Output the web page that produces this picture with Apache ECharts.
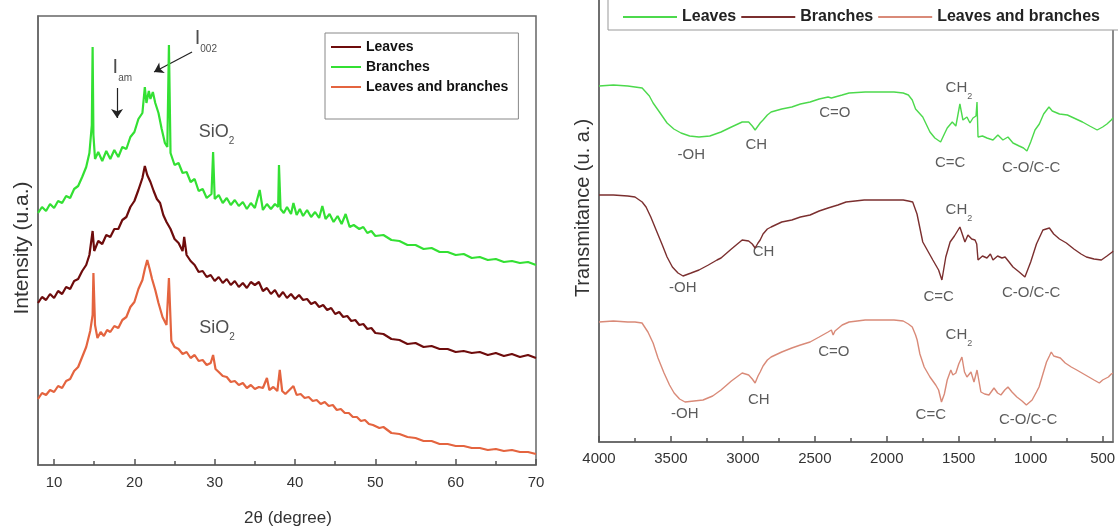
<!DOCTYPE html>
<html>
<head>
<meta charset="utf-8">
<script src="https://cdn.jsdelivr.net/npm/echarts@6/dist/echarts.min.js"></script>
<style>
html,body{margin:0;padding:0;background:#fff;}
#c{width:1118px;height:531px;}
</style>
</head>
<body>
<div id="c"></div>
<script>
// ---------- XRD (left panel): [2theta, intensity (a.u.)] ----------
const xrdBranches = [[8,252],[8.5,258],[9,254],[9.5,261],[10,257],[10.5,264],[11,262],[11.5,269],[12,267],[12.5,276],[13,279],[13.5,288],[14,298],[14.4,312],[14.7,340],[14.8,418],[14.9,330],[15.1,306],[15.5,313],[16,304],[16.5,314],[17,306],[17.5,315],[18,308],[18.5,318],[19,316],[19.5,328],[20,333],[20.5,346],[21,352],[21.3,378],[21.5,362],[21.8,374],[22,366],[22.3,373],[22.6,362],[23,352],[23.4,336],[23.8,322],[24.1,318],[24.3,420],[24.5,312],[25,300],[25.5,302],[26,292],[26.5,293],[27,283],[27.5,286],[28,274],[28.5,276],[29,267],[29.6,271],[29.8,313],[30,266],[30.5,270],[31,262],[31.5,267],[32,260],[32.5,265],[33,259],[33.5,263],[34,256],[34.5,262],[35,257],[35.6,275],[36,255],[36.5,261],[37,256],[37.5,261],[37.9,258],[38,300],[38.2,256],[38.6,252],[39,258],[39.5,251],[39.8,262],[40.2,250],[40.6,256],[41,249],[41.5,255],[42,248],[42.5,253],[43,247],[43.4,259],[43.8,246],[44.3,251],[44.8,243],[45.3,249],[45.8,241],[46.3,251],[46.8,238],[47.3,240],[48,236],[48.5,238],[49,232],[49.5,234],[50,229],[51,230],[52,225],[53,224],[54,220],[55,220],[56,216],[57,217],[58,213],[59,213],[60,210],[61,211],[62,207],[63,208],[64,205],[65,206],[66,203],[67,204],[68,202],[69,203],[70,200]];
const xrdLeaves = [[8,162],[8.5,168],[9,165],[9.5,171],[10,167],[10.5,174],[11,171],[11.5,178],[12,176],[12.5,184],[13,186],[13.5,194],[14,200],[14.4,210],[14.8,234],[15,214],[15.5,224],[16,221],[16.5,230],[17,228],[17.5,236],[18,236],[18.5,245],[19,248],[19.5,258],[20,264],[20.5,275],[21,287],[21.3,299],[21.6,290],[22,283],[22.4,274],[22.8,266],[23.2,262],[23.6,250],[24,243],[24.5,236],[25,226],[25.5,222],[26,214],[26.2,228],[26.5,210],[27,204],[27.5,200],[28,193],[28.5,194],[29,188],[29.5,190],[30,184],[30.5,188],[31,182],[31.5,186],[32,180],[32.5,184],[33,178],[33.5,182],[34,177],[34.5,183],[35,180],[35.5,183],[36,174],[36.5,177],[37,171],[37.5,175],[38,168],[38.5,173],[39,167],[39.5,171],[40,166],[40.5,170],[41,165],[41.5,166],[42,161],[42.5,163],[43,158],[43.5,160],[44,155],[44.5,157],[45,151],[45.5,153],[46,148],[46.5,149],[47,144],[47.5,145],[48,140],[48.5,141],[49,136],[49.5,137],[50,132],[51,131],[52,126],[53,125],[54,121],[55,122],[56,118],[57,119],[58,116],[59,116],[60,113],[61,114],[62,112],[63,113],[64,110],[65,112],[66,109],[67,111],[68,108],[69,110],[70,107]];
const xrdMixed = [[8,66],[8.5,72],[9,70],[9.5,75],[10,73],[10.5,79],[11,77],[11.5,84],[12,86],[12.5,94],[13,98],[13.5,108],[14,118],[14.5,134],[14.8,150],[14.9,192],[15.1,140],[15.4,127],[15.8,133],[16.2,129],[16.6,135],[17,133],[17.5,139],[18,137],[18.5,145],[19,148],[19.5,158],[20,163],[20.5,176],[21,185],[21.3,196],[21.6,205],[21.9,196],[22.2,186],[22.6,175],[23,162],[23.5,148],[24,140],[24.3,187],[24.6,124],[25,118],[25.5,116],[26,111],[26.5,113],[27,107],[27.5,110],[28,104],[28.5,105],[29,100],[29.5,102],[29.8,110],[30.1,96],[30.5,93],[31,89],[31.5,88],[32,83],[32.5,84],[33,80],[33.5,82],[34,77],[34.5,80],[35,76],[35.5,78],[36,77],[36.5,87],[36.8,75],[37.3,78],[37.8,74],[38.1,95],[38.4,74],[38.8,71],[39.3,75],[39.8,79],[40.2,70],[40.7,71],[41.2,67],[41.7,68],[42.2,64],[42.7,65],[43.2,61],[43.7,63],[44.2,59],[44.7,60],[45.2,55],[45.7,56],[46.2,52],[46.7,52],[47.2,48],[47.7,48],[48.2,44],[48.7,45],[49.2,41],[49.7,40],[50.5,37],[51,38],[52,32],[53,31],[54,28],[55,27],[56,24],[57,24],[58,21],[59,21],[60,19],[61,19],[62,17],[63,17],[64,15],[65,16],[66,14],[67,15],[68,13],[69,13],[70,11]];

const xrdTicks = [10, 20, 30, 40, 50, 60, 70];
const xrdMinorTicks = [15, 25, 35, 45, 55, 65];
const xrdNoteText = ['{m|SiO}{s|2}', '{m|SiO}{s|2}', '{i|I}{s|am}', '{i|I}{s|002}'];
const xrdNotePos = [[30.23, 333], [30.3, 137], [18.5, 398], [28.9, 427]];
const xrdArrows = [[[17.84, 377], [17.84, 347]], [[27.18, 413], [22.45, 393]]];

// ---------- FTIR (right panel): [wavenumber cm-1, transmittance (a.u.)] ----------
const ftirLeaves = [[4000,356],[3900,357],[3800,356],[3750,355],[3700,354],[3650,346],[3624,339],[3580,330],[3527,319],[3480,313],[3430,309],[3370,306],[3305,305],[3230,306],[3152,310],[3080,315],[3005,320],[2960,320],[2935,316],[2915,312],[2895,316],[2880,319],[2860,322],[2830,327],[2804,330],[2730,333],[2660,335],[2600,338],[2533,340],[2470,343],[2408,345],[2385,344],[2373,342],[2360,345],[2310,347],[2262,349],[2150,350],[2039,350],[1950,350],[1886,349],[1850,347],[1823,342],[1800,333],[1750,325],[1700,310],[1666,304],[1626,300],[1600,308],[1580,314],[1545,320],[1520,316],[1492,338],[1471,322],[1443,325],[1422,319],[1401,324],[1380,326],[1373,340],[1366,305],[1335,306],[1304,304],[1262,302],[1228,307],[1193,302],[1158,305],[1123,299],[1080,296],[1050,294],[1026,291],[1000,300],[970,312],[940,318],[910,328],[873,335],[850,331],[800,328],[745,327],[700,324],[640,320],[590,316],[538,312],[500,315],[470,318],[440,322],[428,324]];
const ftirBranches = [[4000,247],[3900,247],[3800,246],[3750,245],[3700,240],[3673,235],[3640,225],[3603,212],[3560,197],[3527,185],[3490,175],[3451,169],[3416,166],[3360,169],[3305,172],[3240,177],[3180,182],[3152,184],[3080,193],[3005,202],[2960,201],[2935,198],[2915,194],[2895,199],[2880,202],[2860,208],[2830,213],[2804,215],[2730,220],[2660,222],[2600,225],[2533,227],[2470,231],[2408,234],[2340,237],[2283,240],[2220,241],[2157,242],[2050,242],[1963,242],[1886,242],[1850,241],[1820,240],[1790,228],[1750,200],[1680,182],[1640,172],[1617,162],[1590,185],[1560,200],[1530,206],[1492,215],[1457,200],[1436,207],[1410,203],[1387,202],[1375,198],[1366,182],[1335,186],[1304,184],[1280,188],[1262,182],[1230,186],[1200,184],[1178,185],[1150,180],[1123,175],[1080,170],[1040,165],[1000,180],[960,198],[915,212],[870,214],[840,208],[800,203],[752,199],[700,193],[650,188],[613,185],[560,183],[509,182],[470,186],[433,190],[428,191]];
const ftirMixed = [[4000,120],[3900,121],[3800,120],[3750,120],[3701,119],[3660,110],[3624,99],[3590,84],[3548,69],[3510,57],[3478,49],[3440,43],[3402,40],[3340,41],[3277,42],[3210,46],[3152,52],[3080,61],[3005,69],[2960,67],[2935,63],[2915,59],[2895,66],[2880,70],[2860,76],[2830,82],[2804,85],[2730,90],[2660,94],[2600,97],[2533,100],[2470,105],[2408,110],[2385,112],[2373,107],[2360,111],[2310,117],[2262,120],[2150,122],[2039,122],[1950,122],[1886,121],[1850,118],[1823,115],[1800,107],[1789,102],[1770,88],[1740,75],[1700,65],[1660,57],[1640,52],[1620,40],[1600,48],[1580,62],[1555,72],[1541,67],[1520,69],[1500,78],[1478,85],[1460,70],[1443,65],[1415,70],[1394,60],[1373,72],[1346,50],[1320,48],[1290,47],[1255,54],[1230,49],[1207,47],[1180,52],[1158,55],[1130,50],[1096,45],[1060,41],[1030,37],[1017,35],[990,42],[960,50],[942,55],[915,68],[890,80],[870,86],[857,90],[840,86],[794,84],[760,79],[718,75],[680,72],[620,67],[560,62],[523,59],[500,62],[460,65],[440,68],[428,69]];

const ftirTicks = [4000, 3500, 3000, 2500, 2000, 1500, 1000, 500];
const ftirMinorTicks = [3750, 3250, 2750, 2250, 1750, 1250, 750];
const ftirNoteText = ['-OH','CH','C=O','{m|CH}{s|2}','C=C','C-O/C-C',
                      'CH','{m|CH}{s|2}','-OH','C=C','C-O/C-C',
                      '{m|CH}{s|2}','C=O','CH','-OH','C=C','C-O/C-C'];
const ftirNotePos = [[3359,287],[2907,297],[2361,329],[1499,354],[1560,279],[997,274],
                     [2856,190],[1499,232],[3418,154],[1640,145],[997,149],
                     [1499,107],[2368,90],[2889,42],[3404,28],[1694,27],[1018,22]];

const FONT = "'Liberation Sans', Arial, sans-serif";

function notes(text, pos) {
  return text.map((t, i) => ({ name: t, value: pos[i] }));
}

const chart = echarts.init(document.getElementById('c'), null, { renderer: 'canvas' });

const axisLineStyle = { color: '#666', width: 1.5 };
const plain = v => String(v);

const option = {
  animation: false,
  backgroundColor: '#fff',
  textStyle: { fontFamily: FONT },
  grid: [
    { left: 38, top: 16, width: 498, height: 449, outerBoundsMode: 'none', containLabel: false, show: true, borderColor: '#666', borderWidth: 1.5, backgroundColor: '#fff' },
    { left: 599, top: -2, width: 514, height: 444, outerBoundsMode: 'none', containLabel: false, show: true, borderColor: '#666', borderWidth: 1.5, backgroundColor: '#fff' }
  ],
  xAxis: [
    { type: 'value', gridIndex: 0, position: 'bottom', min: 8, max: 70, axisLine: { show: true, onZero: false, lineStyle: axisLineStyle },
      axisTick: { show: true, inside: true, length: 6, customValues: xrdTicks, lineStyle: { color: '#555', width: 1.5 } },
      axisLabel: { show: true, customValues: xrdTicks, formatter: plain, color: '#333', fontSize: 15, margin: 10, fontFamily: FONT },
      splitLine: { show: false } },
    { type: 'value', gridIndex: 0, position: 'bottom', min: 8, max: 70, axisLine: { show: false, onZero: false },
      axisTick: { show: true, inside: true, length: 4, customValues: xrdMinorTicks, lineStyle: { color: '#555', width: 1.5 } },
      axisLabel: { show: false }, splitLine: { show: false } },
    { type: 'value', gridIndex: 1, position: 'bottom', min: 428, max: 4000, inverse: true, axisLine: { show: true, onZero: false, lineStyle: axisLineStyle },
      axisTick: { show: true, inside: true, length: 6, customValues: ftirTicks, lineStyle: { color: '#555', width: 1.5 } },
      axisLabel: { show: true, customValues: ftirTicks, formatter: plain, color: '#333', fontSize: 15, margin: 9, fontFamily: FONT },
      splitLine: { show: false } },
    { type: 'value', gridIndex: 1, position: 'bottom', min: 428, max: 4000, inverse: true, axisLine: { show: false, onZero: false },
      axisTick: { show: true, inside: true, length: 4, customValues: ftirMinorTicks, lineStyle: { color: '#555', width: 1.5 } },
      axisLabel: { show: false }, splitLine: { show: false } }
  ],
  yAxis: [
    { type: 'value', gridIndex: 0, min: 0, max: 449, axisLine: { show: true, lineStyle: axisLineStyle },
      axisTick: { show: false }, axisLabel: { show: false }, splitLine: { show: false } },
    { type: 'value', gridIndex: 1, min: 0, max: 444, axisLine: { show: true, lineStyle: axisLineStyle },
      axisTick: { show: false }, axisLabel: { show: false }, splitLine: { show: false } }
  ],
  legend: [
    { orient: 'vertical', left: 325, top: 33, padding: [7, 10, 25, 5], itemGap: 6, itemWidth: 30, itemHeight: 10,
      borderColor: '#888', borderWidth: 1, backgroundColor: '#fff',
      itemStyle: { opacity: 0 },
      data: ['Leaves', 'Branches', 'Leaves and branches'],
      textStyle: { fontFamily: FONT, fontWeight: 'bold', fontSize: 14, color: '#111' } },
    { orient: 'horizontal', left: 608, top: -4, width: 560, padding: [13, 20, 5, 14], itemGap: 4, itemWidth: 54, itemHeight: 10,
      borderColor: '#999', borderWidth: 1, backgroundColor: '#fff',
      itemStyle: { opacity: 0 },
      data: ['FTIR Leaves', 'FTIR Branches', 'FTIR Leaves and branches'],
      formatter: n => n.replace('FTIR ', ''),
      textStyle: { fontFamily: FONT, fontWeight: 'bold', fontSize: 16, color: '#222' } }
  ],
  series: [
    { name: 'Leaves', type: 'line', xAxisIndex: 0, yAxisIndex: 0, data: xrdLeaves, symbol: 'none', showSymbol: false,
      lineStyle: { color: '#6e0c0c', width: 2.2 }, itemStyle: { color: '#6e0c0c' } },
    { name: 'Branches', type: 'line', xAxisIndex: 0, yAxisIndex: 0, data: xrdBranches, symbol: 'none', showSymbol: false,
      lineStyle: { color: '#33e033', width: 2.2 }, itemStyle: { color: '#33e033' } },
    { name: 'Leaves and branches', type: 'line', xAxisIndex: 0, yAxisIndex: 0, data: xrdMixed, symbol: 'none', showSymbol: false,
      lineStyle: { color: '#e4643f', width: 2.2 }, itemStyle: { color: '#e4643f' } },
    { name: 'FTIR Leaves', type: 'line', xAxisIndex: 2, yAxisIndex: 1, data: ftirLeaves, symbol: 'none', showSymbol: false,
      lineStyle: { color: '#4cd94c', width: 1.4 }, itemStyle: { color: '#4cd94c' } },
    { name: 'FTIR Branches', type: 'line', xAxisIndex: 2, yAxisIndex: 1, data: ftirBranches, symbol: 'none', showSymbol: false,
      lineStyle: { color: '#7b2f2f', width: 1.4 }, itemStyle: { color: '#7b2f2f' } },
    { name: 'FTIR Leaves and branches', type: 'line', xAxisIndex: 2, yAxisIndex: 1, data: ftirMixed, symbol: 'none', showSymbol: false,
      lineStyle: { color: '#d98a78', width: 1.4 }, itemStyle: { color: '#d98a78' } },
    { name: 'xrdNotes', type: 'scatter', xAxisIndex: 0, yAxisIndex: 0, symbolSize: 0, silent: true,
      data: notes(xrdNoteText, xrdNotePos),
      label: { show: true, position: 'inside', formatter: '{b}', color: '#222',
        rich: {
          m: { fontSize: 18, lineHeight: 28, color: '#222', fontFamily: FONT },
          i: { fontSize: 20, lineHeight: 32, color: '#222', fontFamily: FONT },
          s: { fontSize: 10, lineHeight: 10, verticalAlign: 'bottom', color: '#222', fontFamily: FONT }
        } } },
    { name: 'ftirNotes', type: 'scatter', xAxisIndex: 2, yAxisIndex: 1, symbolSize: 0, silent: true,
      data: notes(ftirNoteText, ftirNotePos),
      label: { show: true, position: 'inside', formatter: '{b}', color: '#333', fontSize: 15, fontFamily: FONT,
        rich: {
          m: { fontSize: 15, lineHeight: 26, color: '#333', fontFamily: FONT },
          s: { fontSize: 9, lineHeight: 9, verticalAlign: 'bottom', color: '#333', fontFamily: FONT }
        } } },
    { name: 'arrows', type: 'lines', coordinateSystem: 'cartesian2d', xAxisIndex: 0, yAxisIndex: 0, silent: true,
      symbol: ['none', 'arrow'], symbolSize: 9,
      lineStyle: { color: '#222', width: 1.2, opacity: 1 },
      data: xrdArrows.map(c => ({ coords: c })) }
  ],
  graphic: [
    { type: 'text', x: 22, y: 248, rotation: Math.PI / 2,
      style: { text: 'Intensity (u.a.)', fontSize: 21, fontFamily: FONT, fill: '#333', align: 'center', verticalAlign: 'middle' } },
    { type: 'text', x: 288, y: 518,
      style: { text: '2θ (degree)', fontSize: 17, fontFamily: FONT, fill: '#333', align: 'center', verticalAlign: 'middle' } },
    { type: 'text', x: 583, y: 208, rotation: Math.PI / 2,
      style: { text: 'Transmitance (u. a.)', fontSize: 20, fontFamily: FONT, fill: '#333', align: 'center', verticalAlign: 'middle' } }
  ]
};

chart.setOption(option);
</script>
</body>
</html>
